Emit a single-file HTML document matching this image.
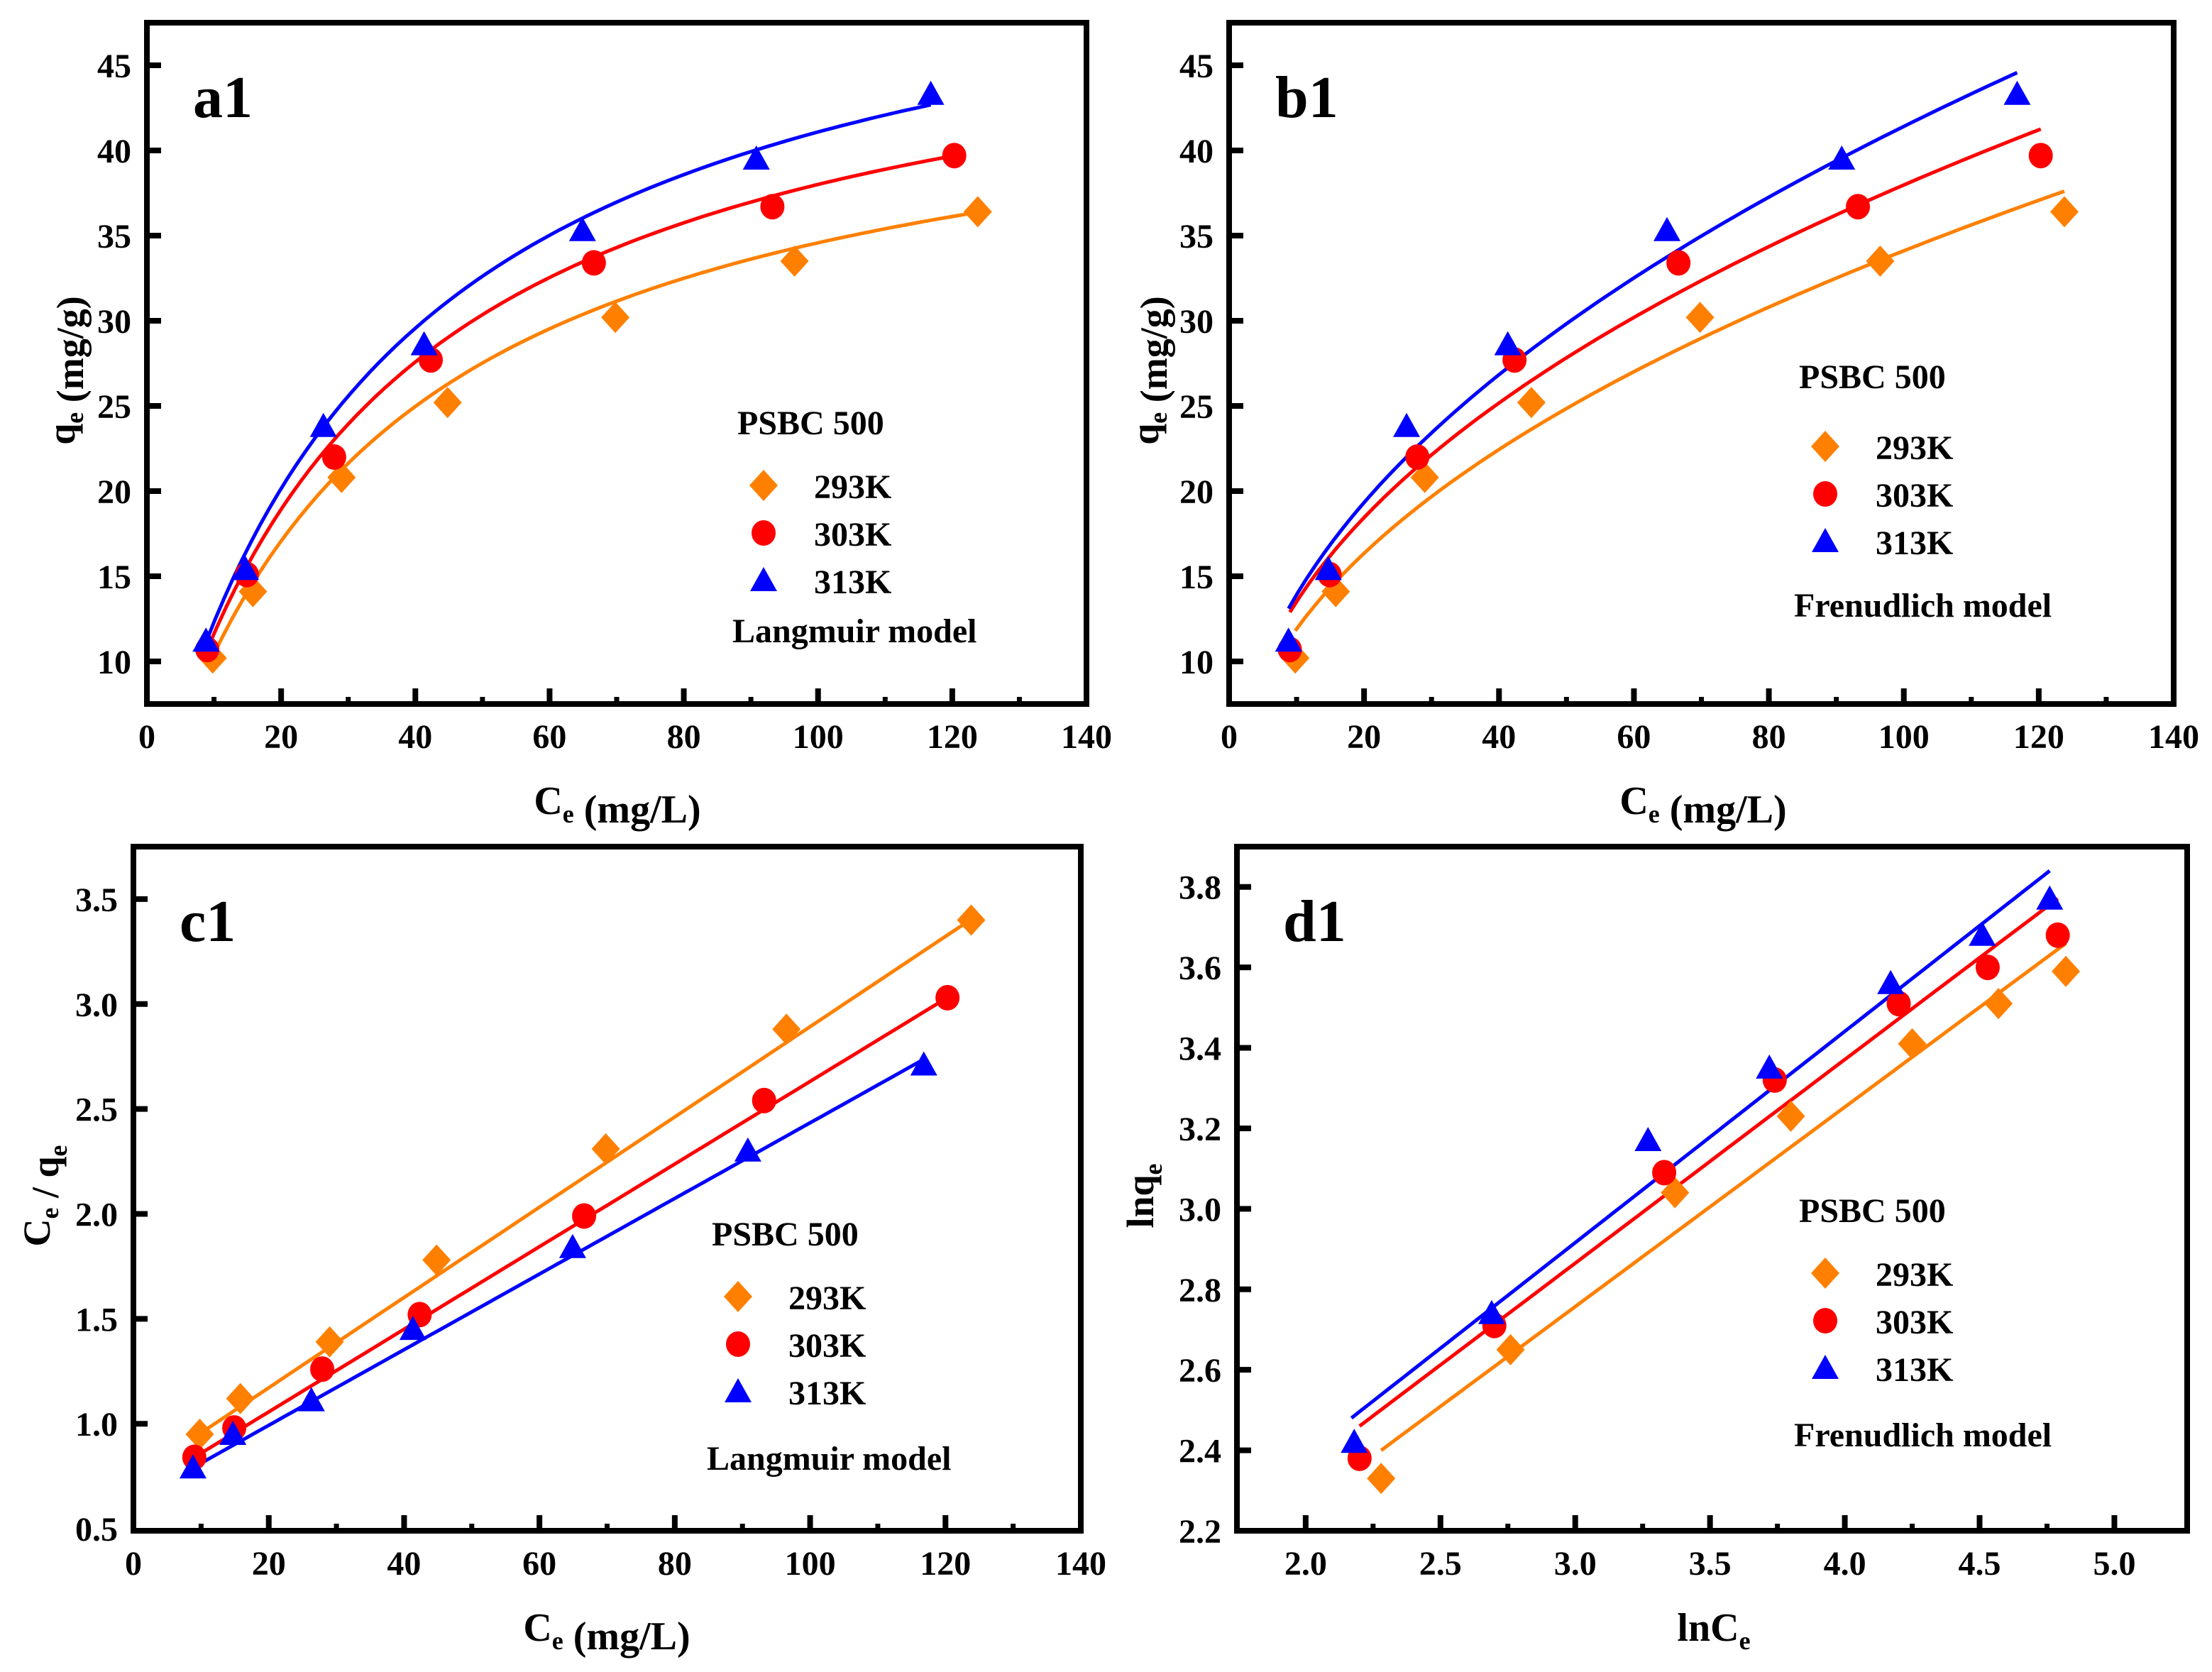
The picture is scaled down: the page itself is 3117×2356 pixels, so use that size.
<!DOCTYPE html>
<html><head><meta charset="utf-8">
<style>
html,body{margin:0;padding:0;background:#fff;}
svg{display:block;font-family:"Liberation Serif","Times New Roman",serif;}
svg text{font-family:"Liberation Serif","Times New Roman",serif !important;font-weight:bold;fill:#000;}
</style></head>
<body>
<svg id="fig" width="3117" height="2356" viewBox="0 0 3117 2356" xmlns="http://www.w3.org/2000/svg" font-family="Liberation Serif, serif"></svg>
<script>
// ---- shared raw data (Ce, qe) for a1 / b1 ----
const ce293 = [9.8, 15.8, 29.0, 44.8, 69.8, 96.5, 123.8];
const qe293 = [10.2, 14.1, 20.8, 25.2, 30.2, 33.5, 36.4];
const ce303 = [9.0, 14.9, 27.9, 42.3, 66.6, 93.2, 120.3];
const qe303 = [10.7, 15.1, 22.0, 27.7, 33.4, 36.7, 39.7];
const ce313 = [8.8, 14.7, 26.3, 41.3, 64.9, 90.8, 116.8];
const qe313 = [11.2, 15.4, 23.8, 28.6, 35.3, 39.5, 43.3];
// ---- c1: Ce/qe ----
const ratio293 = [0.95, 1.12, 1.39, 1.78, 2.31, 2.88, 3.40];
const ratio303 = [0.84, 0.98, 1.26, 1.52, 1.99, 2.54, 3.03];
const ratio313 = [0.79, 0.95, 1.11, 1.45, 1.84, 2.30, 2.71];
// ---- d1: lnCe, lnqe ----
const lnc293 = [2.28, 2.76, 3.37, 3.80, 4.25, 4.57, 4.82];
const lnq293 = [2.33, 2.65, 3.04, 3.23, 3.41, 3.51, 3.59];
const lnc303 = [2.20, 2.70, 3.33, 3.74, 4.20, 4.53, 4.79];
const lnq303 = [2.38, 2.71, 3.09, 3.32, 3.51, 3.60, 3.68];
const lnc313 = [2.18, 2.69, 3.27, 3.72, 4.17, 4.51, 4.76];
const lnq313 = [2.42, 2.74, 3.17, 3.35, 3.56, 3.68, 3.77];
// ---- model parameters (293, 303, 313) ----
const langQm = [46.5, 50.8, 55.5];
const langK = [0.029, 0.0297, 0.0285];
const freundLnK_b = [1.425, 1.571, 1.543];
const freundInvN_b = [0.457, 0.4486, 0.4735];
const freundLnK_d = [1.269, 1.347, 1.341];
const freundSlope_d = [0.496, 0.506, 0.525];
// ---- ticks ----
const ceTicks = [0, 20, 40, 60, 80, 100, 120, 140];
const qeTicks = [10, 15, 20, 25, 30, 35, 40, 45];
const ratioTicks = [0.5, 1.0, 1.5, 2.0, 2.5, 3.0, 3.5];
const lncTicks = [2.0, 2.5, 3.0, 3.5, 4.0, 4.5, 5.0];
const lnqTicks = [2.2, 2.4, 2.6, 2.8, 3.0, 3.2, 3.4, 3.6, 3.8];
const seriesNames = ["293K", "303K", "313K"];

const NS = "http://www.w3.org/2000/svg";
const svg = document.getElementById("fig");
const COLORS = ["#FF8000", "#FF0000", "#0000FF"];
const FONT = "Liberation Serif, Times New Roman, serif";
function mk(tag, attrs, parent) {
  const e = document.createElementNS(NS, tag);
  for (const k in attrs) e.setAttribute(k, attrs[k]);
  if (tag === "text") { e.setAttribute("font-family", FONT); e.setAttribute("font-weight", "bold"); }
  (parent || svg).appendChild(e);
  return e;
}
function marker(g, kind, cx, cy, color) {
  let m;
  if (kind === 0) m = mk("polygon", {points: `${cx},${cy-22} ${cx+20},${cy} ${cx},${cy+22} ${cx-20},${cy}`, fill: color}, g);
  else if (kind === 1) m = mk("ellipse", {cx: cx, cy: cy, rx: 17, ry: 18, fill: color}, g);
  else m = mk("polygon", {points: `${cx},${cy-19} ${cx+19},${cy+15} ${cx-19},${cy+15}`, fill: color}, g);
  return m;
}

function panel(cfg) {
  const g = mk("g", {});
  
  
  const L = cfg.L, R = cfg.R, T = cfg.T, B = cfg.B;
  const sx = v => L + (v - cfg.xmin) / (cfg.xmax - cfg.xmin) * (R - L);
  const sy = v => B - (v - cfg.ymin) / (cfg.ymax - cfg.ymin) * (B - T);
  for (let s = 0; s < 3; s++) {
    const pts = [];
    const n = 80;
    for (let i = 0; i <= n; i++) {
      const x = cfg.fitX0[s] + (cfg.fitX1[s] - cfg.fitX0[s]) * i / n;
      pts.push(sx(x).toFixed(1) + "," + sy(cfg.fit(s, x)).toFixed(1));
    }
    const pl = mk("polyline", {points: pts.join(" "), fill: "none", stroke: COLORS[s], "stroke-width": 5}, g);
    
    
  }
  for (let s = 0; s < 3; s++) {
    const xs = cfg.xs[s], ys = cfg.ys[s];
    for (let i = 0; i < xs.length; i++) {
      const m = marker(g, s, sx(xs[i]), sy(ys[i]), COLORS[s]);
      
      
    }
  }
  const fr = mk("rect", {x: L, y: T, width: R - L, height: B - T, fill: "none", stroke: "#000", "stroke-width": 8}, g);
  
  
  const xt = cfg.xTicks;
  for (let i = 0; i < xt.length; i++) {
    const x = sx(xt[i]);
    if (x > L + 5 && x < R - 5) mk("line", {x1: x, y1: B, x2: x, y2: B - 22, stroke: "#000", "stroke-width": 8}, g);
    if (i < xt.length - 1) {
      const xm = sx((xt[i] + xt[i + 1]) / 2);
      mk("line", {x1: xm, y1: B, x2: xm, y2: B - 10, stroke: "#000", "stroke-width": 7}, g);
    }
    const t = mk("text", {x: x, y: B + 62, "font-size": 48, "text-anchor": "middle"}, g);
    t.textContent = cfg.xFmt(xt[i]);
    
    
  }
  const yt = cfg.yTicks;
  for (let i = 0; i < yt.length; i++) {
    const y = sy(yt[i]);
    if (y > T + 5 && y < B - 5) mk("line", {x1: L, y1: y, x2: L + 20, y2: y, stroke: "#000", "stroke-width": 8}, g);
    const t = mk("text", {x: L - 22, y: y + 17, "font-size": 48, "text-anchor": "end"}, g);
    t.textContent = cfg.yFmt(yt[i]);
    
    
  }
  const pl = mk("text", {x: L + 65, y: T + 133, "font-size": 84}, g);
  pl.textContent = cfg.label;
  
  
  const xl = mk("text", {x: cfg.xlx, y: B + 155, "font-size": 56, "text-anchor": "middle"}, g);
  xl.innerHTML = cfg.xTitle;
  
  
  const yl = mk("text", {x: 0, y: 0, "font-size": 54, "text-anchor": "middle", transform: `translate(${cfg.yTx},${(T + B) / 2 + 10}) rotate(-90)`}, g);
  yl.innerHTML = cfg.yTitle;
  
  
  const lg = mk("g", {}, g);
  
  
  const lx = cfg.legX, ly = cfg.legY;
  const h = mk("text", {x: lx, y: ly, "font-size": 48}, lg);
  h.textContent = "PSBC 500";
  
  
  for (let s = 0; s < 3; s++) {
    const yy = ly + cfg.legGap + s * 67;
    const m = marker(lg, s, lx + 37, yy, COLORS[s]);
    
    
    const t = mk("text", {x: lx + 108, y: yy + 18, "font-size": 48}, lg);
    t.textContent = seriesNames[s];
    
    
  }
  const mdl = mk("text", {x: lx - 7, y: ly + cfg.modelGap, "font-size": 48}, lg);
  mdl.textContent = cfg.model;
  
  
}

const sub = s => `<tspan font-size="36" dy="12">${s}</tspan><tspan dy="-12"></tspan>`;
const intFmt = v => String(v);
const f1 = v => v.toFixed(1);
const langFit = (s, x) => langQm[s] * langK[s] * x / (1 + langK[s] * x);

panel({name: "panel-a1-langmuir", label: "a1", L: 207, R: 1531, T: 32, B: 992,
  xmin: 0, xmax: 140, ymin: 7.5, ymax: 47.5, xTicks: ceTicks, yTicks: qeTicks, xFmt: intFmt, yFmt: intFmt,
  xs: [ce293, ce303, ce313], ys: [qe293, qe303, qe313],
  fit: langFit, fitX0: [ce293[0], ce303[0], ce313[0]], fitX1: [ce293[6], ce303[6], ce313[6]],
  xlx: 870, xTitle: "C" + sub("e") + " (mg/L)", yTx: 105, yTitle: "q" + sub("e") + " (mg/g)",
  legX: 1039, legY: 612, legGap: 72, modelGap: 293, model: "Langmuir model"});

panel({name: "panel-b1-freundlich", label: "b1", L: 1732, R: 3063, T: 32, B: 992,
  xmin: 0, xmax: 140, ymin: 7.5, ymax: 47.5, xTicks: ceTicks, yTicks: qeTicks, xFmt: intFmt, yFmt: intFmt,
  xs: [ce293, ce303, ce313], ys: [qe293, qe303, qe313],
  fit: (s, x) => Math.exp(freundLnK_b[s] + freundInvN_b[s] * Math.log(x)),
  fitX0: [ce293[0], ce303[0], ce313[0]], fitX1: [ce293[6], ce303[6], ce313[6]],
  xlx: 2400, xTitle: "C" + sub("e") + " (mg/L)", yTx: 1632, yTitle: "q" + sub("e") + " (mg/g)",
  legX: 2535, legY: 547, legGap: 82, modelGap: 322, model: "Frenudlich model"});

panel({name: "panel-c1-langmuir-linear", label: "c1", L: 188, R: 1523, T: 1193, B: 2157,
  xmin: 0, xmax: 140, ymin: 0.49, ymax: 3.75, xTicks: ceTicks, yTicks: ratioTicks, xFmt: intFmt, yFmt: f1,
  xs: [ce293, ce303, ce313], ys: [ratio293, ratio303, ratio313],
  fit: (s, x) => 1 / (langK[s] * langQm[s]) + x / langQm[s],
  fitX0: [ce293[0], ce303[0], ce313[0]], fitX1: [ce293[6], ce303[6], ce313[6]],
  xlx: 855, xTitle: "C" + sub("e") + " (mg/L)", yTx: 70, yTitle: "C" + sub("e") + " / q" + sub("e"),
  legX: 1003, legY: 1755, legGap: 72, modelGap: 316, model: "Langmuir model"});

panel({name: "panel-d1-freundlich-linear", label: "d1", L: 1743, R: 3082, T: 1193, B: 2157,
  xmin: 1.745, xmax: 5.27, ymin: 2.2, ymax: 3.9, xTicks: lncTicks, yTicks: lnqTicks, xFmt: f1, yFmt: f1,
  xs: [lnc293, lnc303, lnc313], ys: [lnq293, lnq303, lnq313],
  fit: (s, x) => freundLnK_d[s] + freundSlope_d[s] * x,
  fitX0: [lnc293[0], lnc303[0], lnc313[0] - 0.01], fitX1: [lnc293[6], lnc303[6], lnc313[6]],
  xlx: 2415, xTitle: "lnC" + sub("e"), yTx: 1625, yTitle: "lnq" + sub("e"),
  legX: 2535, legY: 1722, legGap: 72, modelGap: 316, model: "Frenudlich model"});
</script>
</body></html>
